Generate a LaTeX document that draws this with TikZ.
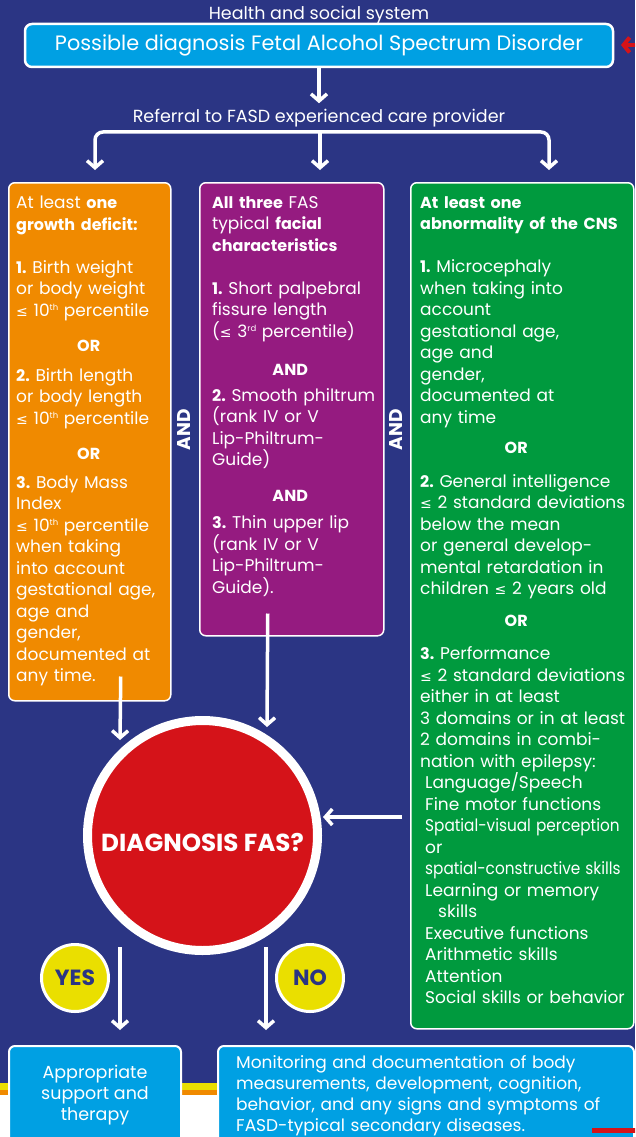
\documentclass[tikz,border=0pt]{standalone}
\usepackage{fontspec}
\setmainfont{Poppins}
\newfontfamily\dejavu{DejaVu Sans}
\usetikzlibrary{positioning,arrows.meta}

\definecolor{navy}{HTML}{2B3584}
\definecolor{fasdblue}{HTML}{00A0E3}
\definecolor{fasdorange}{HTML}{F08A00}
\definecolor{fasdpurple}{HTML}{951B80}
\definecolor{fasdgreen}{HTML}{009A3E}
\definecolor{fasdred}{HTML}{D51319}
\definecolor{fasdyellow}{HTML}{EADF00}

\newcommand{\lesym}{{\dejavu\fontsize{14}{21.5}\selectfont ≤}}
\newcommand{\bodysize}{\fontsize{17}{21.5}\selectfont}
\newcommand{\titlesize}{\fontsize{20.8}{24}\selectfont}
\newcommand{\rowgap}{21.5pt}
\newcommand{\bd}[1]{{\fontsize{16}{21.5}\selectfont\bfseries #1}}
\newcommand{\midword}[2]{\makebox[#1]{\bd{#2}}}
\newcommand{\squeeze}[1]{\scalebox{0.9}[1]{#1}}
\newcommand{\ordsup}[1]{\raisebox{5.5pt}{\fontsize{8.5}{9}\selectfont #1}}

\tikzstyle{mainbox}=[fill=fasdblue,draw=white,line width=2.5pt,rounded corners=7pt,
                     shape=rectangle,text=white,font=\titlesize]
\tikzstyle{headtext}=[text=white,font=\fontsize{17.5}{21}\selectfont,inner sep=1pt]
\tikzstyle{critbox}=[draw=white,line width=1.5pt,rounded corners=6pt,shape=rectangle,
                     anchor=north west]
\tikzstyle{crittext}=[text=white,align=left,anchor=north west,inner sep=0pt,font=\bodysize]
\tikzstyle{andtext}=[text=white,font=\fontsize{18.5}{20}\selectfont\bfseries,rotate=90,inner sep=0pt]
\tikzstyle{flow}=[draw=white,line width=3.5pt,-{Straight Barb[length=7pt,width=16pt]}]
\tikzstyle{answer}=[circle,fill=fasdyellow,draw=white,line width=3pt,minimum size=67pt,
                    inner sep=0pt,text=navy,font=\fontsize{22}{24}\selectfont\bfseries]
\tikzstyle{outcome}=[fill=fasdblue,draw=white,line width=2pt,rounded corners=6pt,
                     shape=rectangle,anchor=north west,minimum height=120pt]

\begin{document}
\frenchspacing
\begin{tikzpicture}[x=1pt,y=-1pt]
\clip (0,0) rectangle (635,1137);
% background and bottom stripes
\fill [navy] (0,0) rectangle (635,1084);
\fill [fasdyellow] (0,1083) rectangle (635,1090);
\fill [fasdorange] (0,1090) rectangle (635,1095);
\fill [white] (0,1095) rectangle (635,1137);

% top of the chart
\node [mainbox, minimum width=588pt, minimum height=43pt] (possible) at (319,45.5)
      {Possible diagnosis Fetal Alcohol Spectrum Disorder};
\node [headtext, above= -2.5pt of possible] (health) {Health and social system};
\node [headtext, below= 40pt of possible] (referral) {Referral to FASD experienced care provider};
\coordinate (split) at (320,132);
\coordinate (tipA) at (95,170);
\coordinate (tipB) at (320,170);
\coordinate (tipC) at (549,170);
\coordinate (warn) at (621,45);

\draw [flow, shorten >=5pt] (possible) -- (referral);
\draw [flow, rounded corners=8pt] (split) -| (tipA);
\draw [flow, rounded corners=8pt] (split) -| (tipC);
\draw [flow] (split) -- (tipB);
\draw [fasdred, line width=4pt, -{Straight Barb[length=6pt,width=15pt]}] (warn) ++(20,0) -- (warn);

% the three criteria
\node [critbox, fill=fasdorange, minimum width=162pt, minimum height=518pt] (growth) at (8,182) {};
\node [critbox, fill=fasdpurple, minimum width=184pt, minimum height=453pt] (facial) at (199,182) {};
\node [critbox, fill=fasdgreen, minimum width=223pt, minimum height=846pt] (cns) at (410,182) {};

\node [crittext, text width=160pt, below right= 14pt and 8pt of growth.north west] (growthtext) {%
At least \bd{one}\\
\bd{growth deficit:}\\[\rowgap]
\bd{1.} Birth weight\\
or body weight\\
\lesym{} 10\ordsup{th} percentile\\[13.5pt]
\midword{145pt}{OR}\\[8.5pt]
\bd{2.} Birth length\\
or body length\\
\lesym{} 10\ordsup{th} percentile\\[13.5pt]
\midword{145pt}{OR}\\[7.5pt]
\bd{3.} Body Mass\\
Index\\
\lesym{} 10\ordsup{th} percentile\\
when taking\\
into account\\
gestational age,\\
age and\\
gender,\\
documented at\\
any time.};

\node [crittext, text width=175pt, below right= 14pt and 13pt of facial.north west] (facialtext) {%
\bd{All three} FAS\\
typical \bd{facial}\\
\bd{characteristics}\\[\rowgap]
\bd{1.} Short palpebral\\
fissure length\\
(\lesym{} 3\ordsup{rd} percentile)\\[16.5pt]
\midword{156pt}{AND}\\[4.5pt]
\bd{2.} Smooth philtrum\\
(rank IV or V\\
Lip-Philtrum-\\
Guide)\\[14.5pt]
\midword{156pt}{AND}\\[5.5pt]
\bd{3.} Thin upper lip\\
(rank IV or V\\
Lip-Philtrum-\\
Guide).};

\node [crittext, text width=240pt, below right= 14pt and 10pt of cns.north west] (cnstext) {%
\bd{At least one}\\
\bd{abnormality of the CNS}\\[\rowgap]
\bd{1.} Microcephaly\\
when taking into\\
account\\
gestational age,\\
age and\\
gender,\\
documented at\\
any time\\[8.5pt]
\midword{192pt}{OR}\\[12.5pt]
\bd{2.} General intelligence\\
\lesym{} 2 standard deviations\\
below the mean\\
or general develop-\\
mental retardation in\\
children \lesym{} 2 years old\\[10.5pt]
\midword{192pt}{OR}\\[11.5pt]
\bd{3.} Performance\\
\lesym{} 2 standard deviations\\
either in at least\\
3 domains or in at least\\
2 domains in combi-\\
nation with epilepsy:\\
\hspace*{5pt}Language/Speech\\
\hspace*{5pt}Fine motor functions\\
\hspace*{5pt}\squeeze{Spatial-visual perception}\\
\hspace*{5pt}or\\
\hspace*{5pt}\squeeze{spatial-constructive skills}\\
\hspace*{5pt}Learning or memory\\
\hspace*{18pt}skills\\
\hspace*{5pt}Executive functions\\
\hspace*{5pt}Arithmetic skills\\
\hspace*{5pt}Attention\\
\hspace*{5pt}Social skills or behavior};

\node [andtext] (and1) at (184,430) {AND};
\node [andtext] (and2) at (396,430) {AND};

% decision
\node [circle, fill=fasdred, draw=white, line width=9pt, minimum size=230pt, inner sep=0pt,
       text=white, font=\fontsize{24.6}{26}\selectfont\bfseries] (diag) at (202.5,835.5)
      {\raisebox{-16pt}[0pt][0pt]{DIAGNOSIS FAS?}};
\node [answer] (yes) at (75,978) {YES};
\node [answer] (no) at (310,978) {NO};

\coordinate (gto) at (120,740);
\coordinate (fto) at (267,727);
\coordinate (cto) at (323,817);
\coordinate (yesfrom) at (120,947);
\coordinate (nofrom) at (266,947);

\draw [flow] ([xshift=31pt,yshift=25pt]growth.south) -- (gto);
\draw [flow] ([xshift=-24pt,yshift=23pt]facial.south) -- (fto);
\draw [flow] ([xshift=-8pt]cns.west |- cto) -- (cto);

% outcomes
\node [outcome, minimum width=172pt] (support) at (8,1045) {};
\node [outcome, minimum width=416pt] (monitor) at (217,1045) {};
\node [headtext, align=center, below= 20pt of support.north, inner sep=0pt] (supporttext)
      {Appropriate\\support and\\therapy};
\node [crittext, text width=395pt, font=\fontsize{17}{21}\selectfont,
       below right= 10pt and 19pt of monitor.north west] (monitortext)
      {Monitoring and documentation of body\\
       measurements, development, cognition,\\
       behavior, and any signs and symptoms of\\
       FASD-typical secondary diseases.};
\fill [fasdred] (592,1128) rectangle (640,1133);

\draw [flow, shorten >=15pt] (yesfrom) -- (yesfrom |- support.north);
\draw [flow, shorten >=15pt] (nofrom) -- (nofrom |- monitor.north);
\end{tikzpicture}
\end{document}
